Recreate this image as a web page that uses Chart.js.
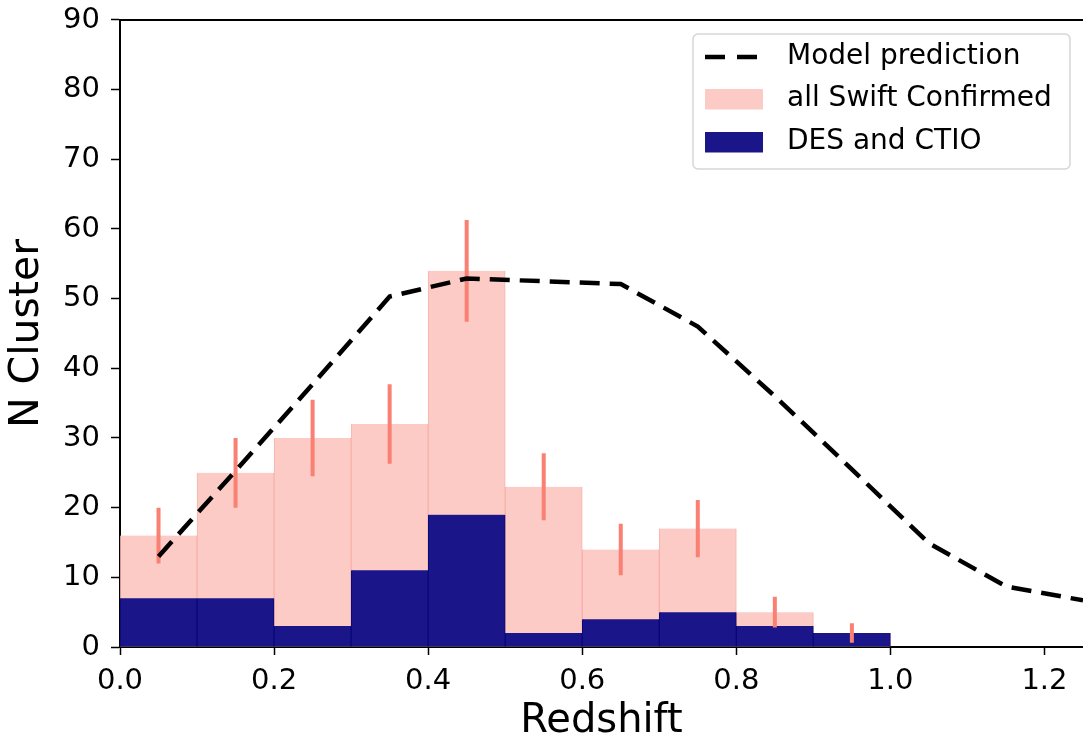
<!DOCTYPE html>
<html>
<head>
<meta charset="utf-8">
<script src="https://cdn.jsdelivr.net/npm/chart.js@4.4.1/dist/chart.umd.min.js"></script>
<style>
  html, body { margin: 0; padding: 0; background: #fff; }
  #wrap { width: 1083px; height: 743px; }
</style>
</head>
<body>
<div id="wrap"><canvas id="zChart" width="1083" height="743"></canvas></div>
<script>
// histogram bins (width 0.1 in redshift)
var binCentres = [0.05, 0.15, 0.25, 0.35, 0.45, 0.55, 0.65, 0.75, 0.85, 0.95];
var allSwift = [16, 25, 30, 32, 54, 23, 14, 17, 5, 2];
var swiftErr = [4.0, 5.0, 5.5, 5.7, 7.3, 4.8, 3.7, 4.1, 2.2, 1.4];
var desCtio = [7, 7, 3, 11, 19, 2, 4, 5, 3, 2];

// model curve
var modelZ = [0.05, 0.15, 0.25, 0.35, 0.45, 0.55, 0.65, 0.75, 0.85, 0.95, 1.05, 1.15, 1.25];
var modelN = [13.0, 25.3, 37.7, 50.3, 52.9, 52.5, 52.1, 46.0, 36.0, 25.5, 14.9, 8.7, 6.7];

var xStep = 0.2;
var yStep = 10;

var FONT = "'DejaVu Sans', sans-serif";
var PINK = 'rgb(252,203,198)';
var NAVY = 'rgb(26,21,136)';
var SALMON = 'rgb(249,128,114)';

function pts(xs, ys) {
  return xs.map(function (x, i) { return { x: x, y: ys[i] }; });
}

// vertical error segments, broken apart by null points
var errPts = [];
binCentres.forEach(function (x, i) {
  errPts.push({ x: x, y: allSwift[i] - swiftErr[i] });
  errPts.push({ x: x, y: allSwift[i] + swiftErr[i] });
  errPts.push({ x: x, y: null });
});

var modelSet = {
  type: 'line',
  label: 'Model prediction',
  data: pts(modelZ, modelN),
  borderColor: '#000',
  borderWidth: 4.5,
  borderDash: [20, 10],
  pointRadius: 0,
  tension: 0,
  order: 0
};
var errSet = {
  type: 'line',
  label: '',
  data: errPts,
  borderColor: SALMON,
  borderWidth: 4,
  pointRadius: 0,
  spanGaps: false,
  order: 1
};
var desSet = {
  type: 'bar',
  label: 'DES and CTIO',
  data: pts(binCentres, desCtio),
  backgroundColor: NAVY,
  borderColor: 'rgb(10,8,120)',
  borderWidth: { left: 1, right: 1, top: 0, bottom: 0 },
  grouped: false,
  barPercentage: 1,
  categoryPercentage: 1,
  order: 2
};
var swiftSet = {
  type: 'bar',
  label: 'all Swift Confirmed',
  data: pts(binCentres, allSwift),
  backgroundColor: PINK,
  borderColor: 'rgba(246,160,150,0.8)',
  borderWidth: { left: 1, right: 1, top: 0, bottom: 0 },
  grouped: false,
  barPercentage: 1,
  categoryPercentage: 1,
  order: 3
};

// top spine + boxed legend like the matplotlib one
var framePlugin = {
  id: 'framePlugin',
  afterDraw: function (chart) {
    var ctx = chart.ctx;
    var a = chart.chartArea;
    ctx.save();
    ctx.strokeStyle = '#000';
    ctx.lineWidth = 2;
    ctx.beginPath();
    ctx.moveTo(a.left - 1, a.top);
    ctx.lineTo(a.right, a.top);
    ctx.stroke();

    // legend box
    var bx = 693, by = 34, bw = 377, bh = 135;
    ctx.beginPath();
    ctx.roundRect(bx, by, bw, bh, 5);
    ctx.fillStyle = 'rgba(255,255,255,0.85)';
    ctx.fill();
    ctx.strokeStyle = '#d6d6d6';
    ctx.lineWidth = 1.5;
    ctx.stroke();

    var rows = [
      { ds: modelSet, y: 57 },
      { ds: swiftSet, y: 99 },
      { ds: desSet, y: 142 }
    ];
    rows.forEach(function (r) {
      if (r.ds.type === 'line') {
        ctx.strokeStyle = r.ds.borderColor;
        ctx.lineWidth = r.ds.borderWidth;
        ctx.setLineDash([20, 12]);
        ctx.beginPath();
        ctx.moveTo(705, r.y);
        ctx.lineTo(757, r.y);
        ctx.stroke();
        ctx.setLineDash([]);
      } else {
        ctx.fillStyle = r.ds.backgroundColor;
        ctx.fillRect(705, r.y - 10, 58, 20.5);
      }
      ctx.fillStyle = '#000';
      ctx.font = '28px ' + FONT;
      ctx.textAlign = 'left';
      ctx.textBaseline = 'middle';
      ctx.fillText(r.ds.label, 787, r.y);
    });
    ctx.restore();
  }
};

var ctx = document.getElementById('zChart').getContext('2d');
var zChart = new Chart(ctx, {
  type: 'bar',
  data: { datasets: [modelSet, errSet, desSet, swiftSet] },
  plugins: [framePlugin],
  options: {
    responsive: false,
    animation: false,
    devicePixelRatio: 1,
    layout: { padding: { top: 12, right: 0, left: 0, bottom: 0 } },
    plugins: { legend: { display: false }, tooltip: { enabled: false } },
    scales: {
      x: {
        type: 'linear',
        min: 0,
        max: 1.25,
        offset: false,
        afterFit: function (s) { s.height = 96; },
        ticks: {
          stepSize: xStep,
          includeBounds: false,
          autoSkip: false,
          padding: 9,
          color: '#000',
          maxRotation: 0,
          font: { family: FONT, size: 29 },
          callback: function (v) { return Number(v).toFixed(1); }
        },
        grid: { display: true, offset: false, drawOnChartArea: false, tickLength: 8, tickWidth: 1.5, tickColor: '#000' },
        border: { display: true, color: '#000', width: 2 },
        title: {
          display: true,
          text: 'Redshift',
          color: '#000',
          font: { family: FONT, size: 40, lineHeight: 1 },
          padding: { top: 0, bottom: 1 }
        }
      },
      y: {
        min: 0,
        max: 90,
        afterFit: function (s) { s.width = 120; },
        ticks: {
          stepSize: yStep,
          padding: 11,
          color: '#000',
          font: { family: FONT, size: 29, lineHeight: 0.62 }
        },
        grid: { display: true, drawOnChartArea: false, tickLength: 9, tickWidth: 1.5, tickColor: '#000' },
        border: { display: true, color: '#000', width: 2 },
        title: {
          display: true,
          text: 'N Cluster',
          color: '#000',
          font: { family: FONT, size: 41, lineHeight: 1 },
          padding: { top: 7, bottom: 0 }
        }
      }
    }
  }
});
</script>
</body>
</html>
